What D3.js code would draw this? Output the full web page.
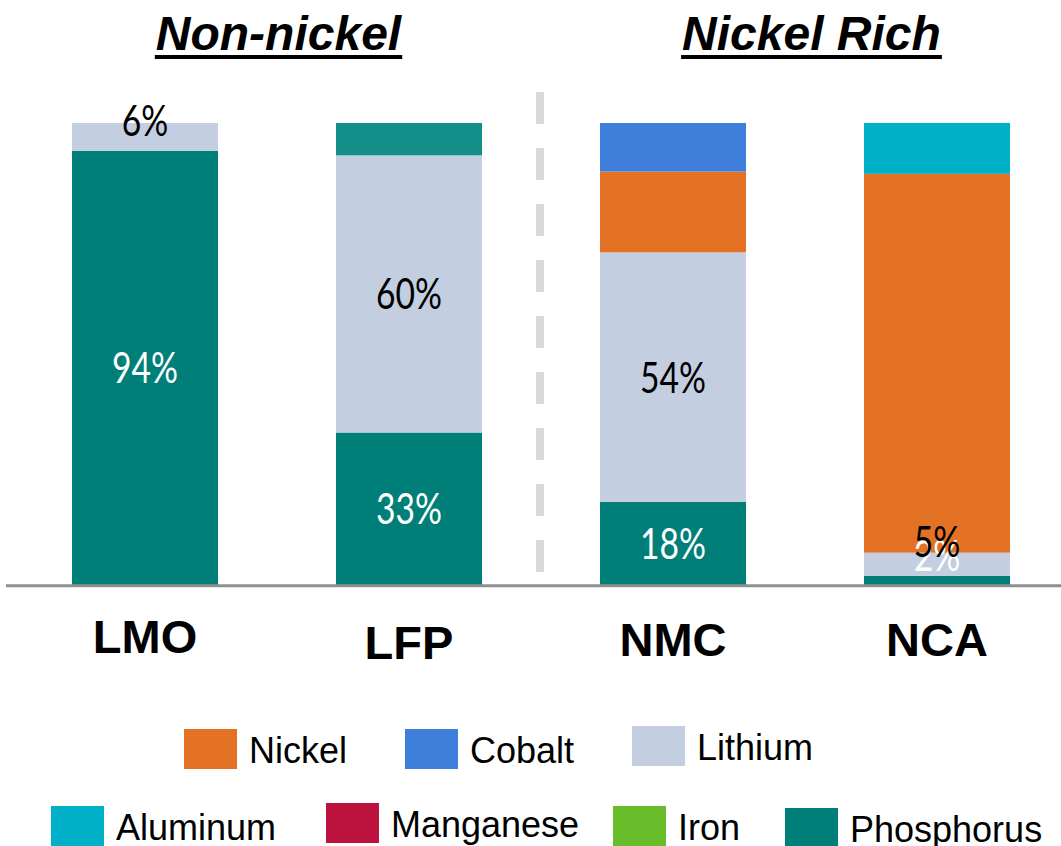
<!DOCTYPE html>
<html>
<head>
<meta charset="utf-8">
<script src="https://cdn.jsdelivr.net/npm/d3@7"></script>
<style>
  html, body { margin: 0; padding: 0; background: #ffffff; }
  svg { display: block; }
</style>
</head>
<body>
<svg id="chart" width="1061" height="846"></svg>
<script>
// Battery chemistries and share of each element (%)
const categories = ["LMO", "LFP", "NMC", "NCA"];
const phosphorus = [94, 33, 18, 2];
const lithium    = [6, 60, 54, 5];
const nickel     = [0, 0, 17.5, 82];
const cobalt     = [0, 0, 10.5, 0];
const aluminum   = [0, 0, 0, 11];
const manganese  = [0, 0, 0, 0];
const iron       = [0, 0, 0, 0];
const other      = [0, 7, 0, 0];

const groupTitles = ["Non-nickel", "Nickel Rich"];
const legendNames = ["Nickel", "Cobalt", "Lithium", "Aluminum", "Manganese", "Iron", "Phosphorus"];

// Styling
const colors = {
  Phosphorus: "#007f78",
  Lithium: "#c3cee0",
  Nickel: "#e37224",
  Cobalt: "#3d7fda",
  Aluminum: "#00b0c9",
  Manganese: "#bb133e",
  Iron: "#6abd2a",
  Other: "#14908a"
};
const labelColor = { Phosphorus: "#ffffff", Lithium: "#000000" };

// Stack order, bottom to top
const seriesKeys = ["Phosphorus", "Lithium", "Nickel", "Cobalt", "Aluminum", "Manganese", "Iron", "Other"];
const seriesData = { Phosphorus: phosphorus, Lithium: lithium, Nickel: nickel, Cobalt: cobalt,
                     Aluminum: aluminum, Manganese: manganese, Iron: iron, Other: other };

const rows = categories.map((c, i) => {
  const r = { category: c };
  seriesKeys.forEach(k => r[k] = seriesData[k][i]);
  return r;
});

const svg = d3.select("#chart");

const x = d3.scaleBand()
  .domain(categories)
  .range([13, 1069])
  .paddingInner(0.447)
  .paddingOuter(0.2235);

const y = d3.scaleLinear().domain([0, 100]).range([585, 123]);

const stacked = d3.stack().keys(seriesKeys)(rows);

// Bars
const layers = svg.append("g").selectAll("g")
  .data(stacked)
  .join("g")
  .attr("fill", d => colors[d.key]);

layers.selectAll("rect")
  .data(d => d.filter(s => s[1] - s[0] > 0))
  .join("rect")
  .attr("x", d => x(d.data.category))
  .attr("width", x.bandwidth())
  .attr("y", d => y(d[1]))
  .attr("height", d => y(d[0]) - y(d[1]));

// Baseline
svg.append("line")
  .attr("x1", 6).attr("x2", 1061)
  .attr("y1", 585.8).attr("y2", 585.8)
  .attr("stroke", "#8f8f8f")
  .attr("stroke-width", 3);

// Divider between groups
svg.append("line")
  .attr("x1", 540).attr("x2", 540)
  .attr("y1", 92).attr("y2", 572)
  .attr("stroke", "#d9d9d9")
  .attr("stroke-width", 8)
  .attr("stroke-dasharray", "32,24");

// Value labels for phosphorus and lithium segments
const labelNudge = { "LMO|Lithium": -16, "NCA|Lithium": -23, "NCA|Phosphorus": -25 };
const labelled = ["Phosphorus", "Lithium"];
const labelG = svg.append("g")
  .attr("font-family", "Lato, 'Open Sans', sans-serif")
  .attr("font-size", 43)
  .attr("text-anchor", "middle");

stacked.filter(s => labelled.includes(s.key)).forEach(s => {
  s.forEach(d => {
    const v = d[1] - d[0];
    if (v <= 0) return;
    const txt = d3.format("d")(v) + "%";
    const cy = (y(d[0]) + y(d[1])) / 2 + 15.5 + (labelNudge[d.data.category + "|" + s.key] || 0);
    const digits = txt.length - 1;
    labelG.append("text")
      .attr("x", x(d.data.category) + x.bandwidth() / 2)
      .attr("y", cy)
      .attr("fill", labelColor[s.key])
      .attr("textLength", digits * 19.5 + 27)
      .attr("lengthAdjust", "spacingAndGlyphs")
      .text(txt);
  });
});

// Category labels
const catBaseline = [653, 659, 656, 656];
svg.append("g")
  .attr("font-family", "Arial, 'Liberation Sans', sans-serif")
  .attr("font-weight", "bold")
  .attr("font-size", 47)
  .attr("text-anchor", "middle")
  .selectAll("text")
  .data(categories)
  .join("text")
  .attr("x", d => x(d) + x.bandwidth() / 2)
  .attr("y", (d, i) => catBaseline[i])
  .text(d => d);

// Group titles, underlined
const titleCenters = [278.5, 811.5];
groupTitles.forEach((t, i) => {
  const tx = svg.append("text")
    .attr("x", titleCenters[i])
    .attr("y", 50)
    .attr("text-anchor", "middle")
    .attr("font-family", "Arial, 'Liberation Sans', sans-serif")
    .attr("font-weight", "bold")
    .attr("font-style", "italic")
    .attr("font-size", 48)
    .text(t);
  const w = tx.node().getComputedTextLength();
  svg.append("rect")
    .attr("x", titleCenters[i] - w / 2 - 1)
    .attr("y", 55)
    .attr("width", w + 2)
    .attr("height", 4)
    .attr("fill", "#000");
});

// Legend
const legendPos = [
  { x: 184, y: 729 }, { x: 405, y: 729 }, { x: 632, y: 726 },
  { x: 51, y: 806 }, { x: 326, y: 803 }, { x: 613, y: 806 }, { x: 785, y: 808 }
];
const legend = svg.append("g")
  .attr("font-family", "Arial, 'Liberation Sans', sans-serif")
  .attr("font-size", 36);
legendNames.forEach((name, i) => {
  const p = legendPos[i];
  legend.append("rect")
    .attr("x", p.x).attr("y", p.y)
    .attr("width", 53).attr("height", 40)
    .attr("fill", colors[name]);
  legend.append("text")
    .attr("x", p.x + 65)
    .attr("y", p.y + 34)
    .attr("fill", "#000")
    .text(name);
});
</script>
</body>
</html>
